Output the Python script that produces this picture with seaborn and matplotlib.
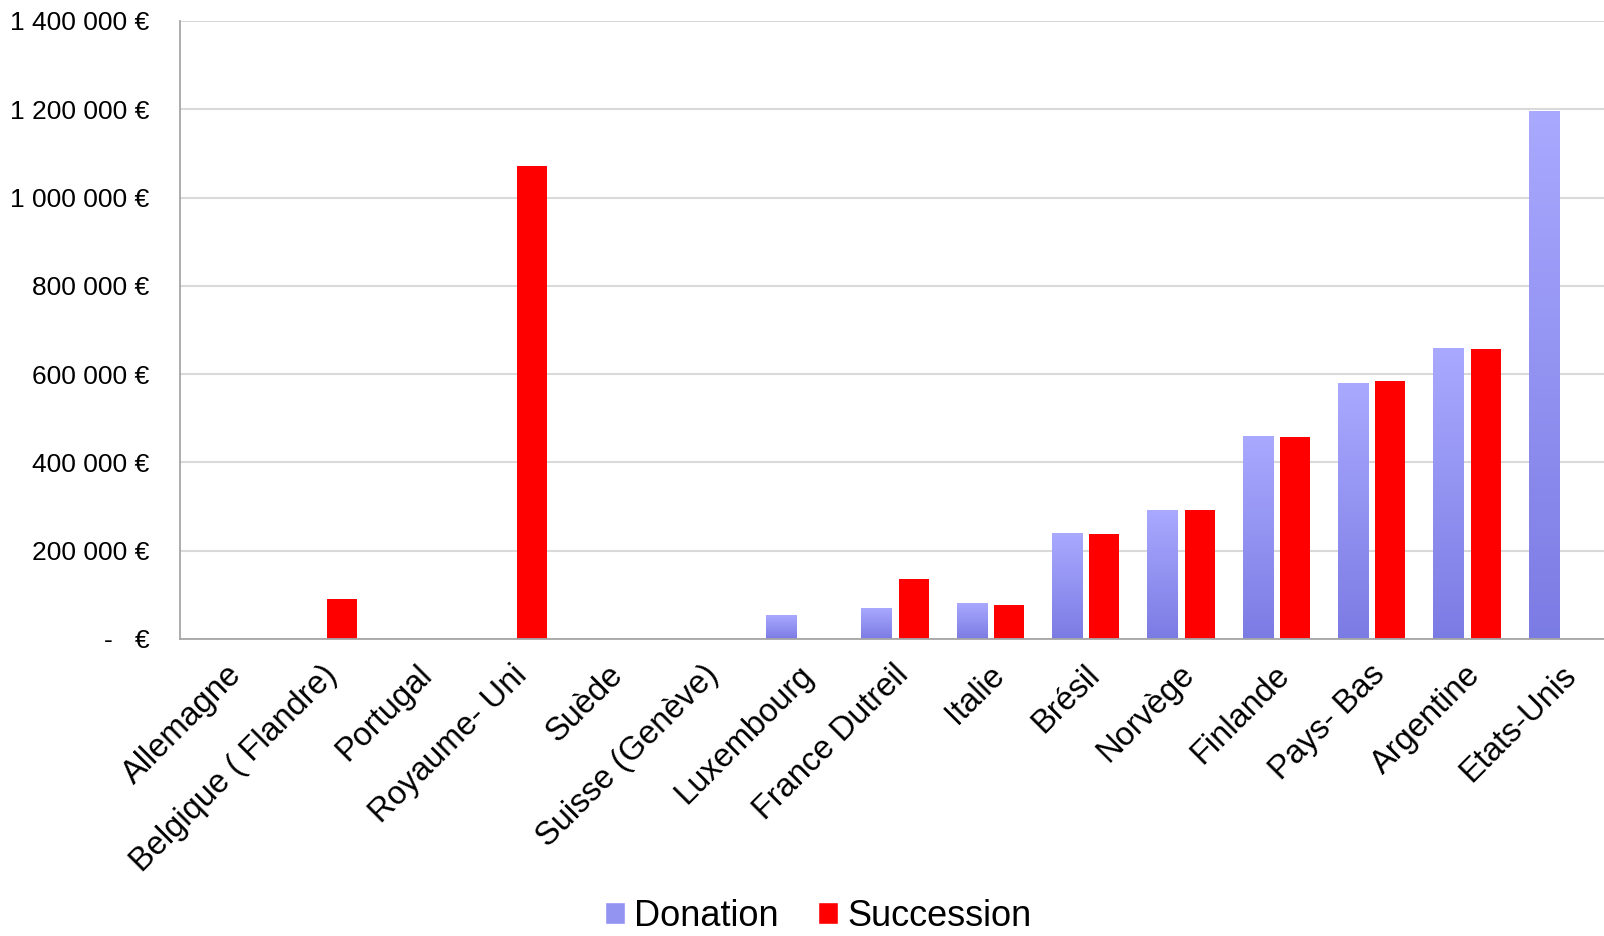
import numpy as np
import pandas as pd
import seaborn as sns
import matplotlib.pyplot as plt
import matplotlib.transforms as mtransforms
from matplotlib.ticker import FuncFormatter
from matplotlib.colors import LinearSegmentedColormap
from matplotlib.patches import Patch

# données
pays = ["Allemagne", "Belgique ( Flandre)", "Portugal", "Royaume- Uni", "Suède",
        "Suisse (Genève)", "Luxembourg", "France Dutreil", "Italie", "Brésil",
        "Norvège", "Finlande", "Pays- Bas", "Argentine", "Etats-Unis"]
donation = [0, 0, 0, 0, 0, 0, 53000, 69000, 80000, 238000, 292000, 459000,
            579000, 658000, 1195000]
succession = [0, 90000, 0, 1071000, 0, 0, 0, 137000, 78000, 237500, 291500,
              458000, 585000, 657500, 0]
series = ["Donation", "Succession"]

df = pd.DataFrame({
    "pays": pays * 2,
    "type": ["Donation"] * len(pays) + ["Succession"] * len(pays),
    "montant": donation + succession,
})

sns.set_theme(style="white")
plt.rcParams["font.family"] = ["Liberation Sans", "DejaVu Sans"]

fig = plt.figure(figsize=(16.04, 9.36), dpi=100)
ax = fig.add_axes([180 / 1604, 1 - 639 / 936, (1610 - 180) / 1604, (639 - 21) / 936])

palette = {"Donation": "#9898F4", "Succession": "#FF0000"}
sns.barplot(data=df, x="pays", y="montant", hue="type", hue_order=series,
            palette=palette, width=0.78, gap=0.19, ax=ax, legend=False,
            saturation=1, errorbar=None, linewidth=0)

# dégradé sur les barres Donation
cmap = LinearSegmentedColormap.from_list("don", ["#7B7BE4", "#A9A9FF"])
grad = np.linspace(0, 1, 256).reshape(-1, 1)
for p in ax.containers[0]:
    h = p.get_height()
    if h > 0:
        x = p.get_x()
        w = p.get_width()
        ax.imshow(grad, extent=[x, x + w, 0, h], origin="lower", aspect="auto",
                  cmap=cmap, zorder=p.get_zorder() + 0.1)

ax.set_xlim(-0.5, len(pays) - 0.5)
ax.set_ylim(0, 1400000)
ax.set_yticks(np.arange(0, 1400001, 200000))


def euro(v, pos):
    if v == 0:
        return "-   €"
    return f"{int(v):,} €".replace(",", " ")


ax.yaxis.set_major_formatter(FuncFormatter(euro))
ax.set_xlabel("")
ax.set_ylabel("")
ax.yaxis.grid(True, color="#D9D9D9", linewidth=1.5)
ax.set_axisbelow(True)

for s in ["top", "right"]:
    ax.spines[s].set_visible(False)
for s in ["left", "bottom"]:
    ax.spines[s].set_color("#A6A6A6")
    ax.spines[s].set_linewidth(1.3)

ax.tick_params(axis="y", length=4, color="#A6A6A6", pad=18, labelsize=19)
ax.tick_params(axis="x", length=0, pad=22.5, labelsize=23.5)
offset = mtransforms.ScaledTranslation(9 / 100, 0, fig.dpi_scale_trans)
for t in ax.get_xticklabels():
    t.set_rotation(45)
    t.set_ha("right")
    t.set_va("center")
    t.set_rotation_mode("anchor")
    t.set_transform(t.get_transform() + offset)
for t in ax.get_yticklabels() + ax.get_xticklabels():
    t.set_color("black")

handles = [Patch(facecolor="#9393F2", label="Donation"),
           Patch(facecolor="#FF0000", label="Succession")]
leg = fig.legend(handles=handles, loc="center", bbox_to_anchor=(0.51, 0.021),
                 ncol=2, frameon=False, fontsize=26, handlelength=0.55,
                 handleheight=0.55, handletextpad=0.25, columnspacing=1.1,
                 borderpad=0.1)
for t in leg.get_texts():
    t.set_color("black")

plt.savefig("out.png", dpi=100)
